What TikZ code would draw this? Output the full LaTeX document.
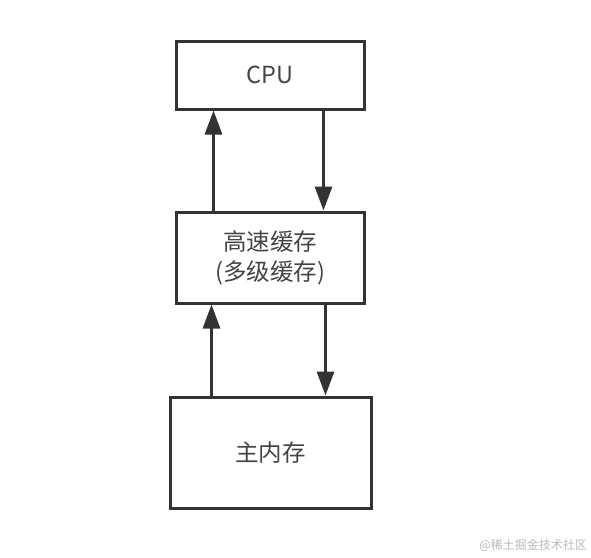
\documentclass[tikz,border=0pt]{standalone}
\usepackage{fontspec}
\setmainfont{Noto Sans CJK SC}
\usetikzlibrary{arrows.meta}
\definecolor{edge}{HTML}{333333}
\definecolor{txt}{HTML}{444444}
\tikzset{
  blk/.style={rectangle,draw=edge,line width=3pt,fill=white,inner sep=0pt,align=center,text=txt,font=\fontsize{23.5}{30}\selectfont},
  arr/.style={draw=edge,line width=3pt,-{Triangle[length=24pt,width=17pt]}},
  wmark/.style={text=gray!55,font=\fontsize{12}{14}\selectfont,inner sep=0pt}
}
\begin{document}
\begin{tikzpicture}[x=1pt,y=-1pt]
\useasboundingbox (0,0) rectangle (591,557);
\node[blk,minimum width=188pt,minimum height=68pt] (cpu) at (270,75) {CPU};
\node[blk,minimum width=188pt,minimum height=91pt] (cache) at (270,257.5) {高速缓存\\(多级缓存)};
\node[blk,minimum width=201pt,minimum height=111pt] (mem) at (270.5,452.5) {主内存};
\draw[arr] ([xshift=39pt]cache.north west) -- ([xshift=39pt]cpu.south west);
\draw[arr] ([xshift=-42pt]cpu.south east) -- ([xshift=-42pt]cache.north east);
\draw[arr] ([xshift=43pt]mem.north west) -- ([xshift=37pt]cache.south west);
\draw[arr] ([xshift=-40pt]cache.south east) -- ([xshift=-47pt]mem.north east);
\node[wmark,anchor=east] (mark) at (587,545) {@稀土掘金技术社区};
\end{tikzpicture}
\end{document}
